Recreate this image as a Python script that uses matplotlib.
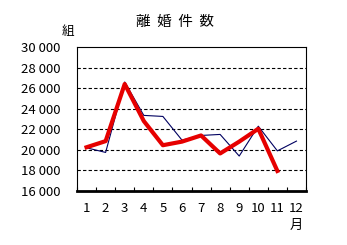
import numpy as np
import matplotlib
matplotlib.use("Agg")
import matplotlib.pyplot as plt

plt.rcParams['font.family'] = ['Noto Sans CJK JP', 'DejaVu Sans']

months = ["1", "2", "3", "4", "5", "6", "7", "8", "9", "10", "11", "12"]
prev_year = [20200, 19750, 26600, 23350, 23250, 20950, 21400, 21500, 19400, 22300, 19900, 20850]
this_year = [20250, 20850, 26400, 22800, 20450, 20800, 21400, 19650, 20800, 22050, 17950]
y_ticks = [16000, 18000, 20000, 22000, 24000, 26000, 28000, 30000]
y_labels = ["16 000", "18 000", "20 000", "22 000", "24 000", "26 000", "28 000", "30 000"]

fig = plt.figure(figsize=(3.47, 2.45), dpi=100)
ax = fig.add_axes([77 / 347, 1 - 191 / 245, 229 / 347, 144 / 245])

x_prev = np.arange(len(prev_year)) + 0.5
x_this = np.arange(len(this_year)) + 0.5
ax.plot(x_prev, prev_year, color="#000060", lw=0.8, zorder=3)
ax.plot(x_this, this_year, color="#e60000", lw=3, zorder=4)

ax.set_xlim(0, 12)
ax.set_ylim(16000, 30000)
ax.set_yticks(y_ticks)
ax.set_yticklabels(y_labels, fontsize=9.5)
ax.tick_params(axis="y", length=0, pad=12)
ax.set_xticks(np.arange(0, 13))
ax.set_xticklabels([])
ax.set_xticks(np.arange(12) + 0.5, minor=True)
ax.set_xticklabels(months, minor=True, fontsize=9.5)
ax.tick_params(axis="x", which="major", direction="in", length=3, width=0.8)
ax.tick_params(axis="x", which="minor", length=0, pad=8)

for y in y_ticks[1:-1]:
    ax.axhline(y, color="black", lw=0.8, ls=(0, (3, 2)), zorder=1)

for s in ["top", "left", "right"]:
    ax.spines[s].set_linewidth(0.8)
ax.spines["bottom"].set_linewidth(2)

fig.text(175 / 347, 1 - 22 / 245, "離  婚  件  数", ha="center", va="center", fontsize=10.5)
fig.text(68 / 347, 1 - 31 / 245, "組", ha="center", va="center", fontsize=9)
fig.text(296 / 347, 1 - 225 / 245, "月", ha="center", va="center", fontsize=9.5)

fig.savefig("out.png", dpi=100)
